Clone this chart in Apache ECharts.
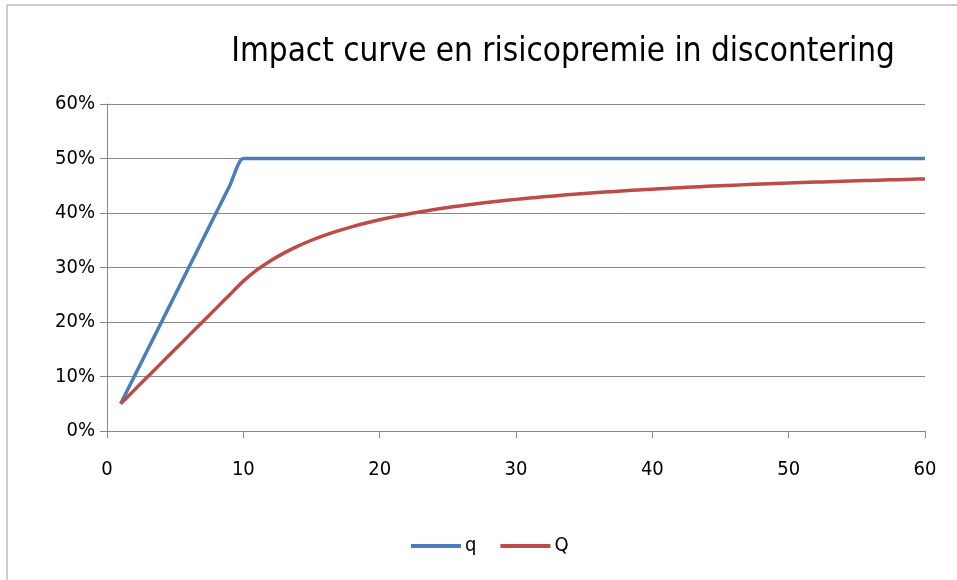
<!DOCTYPE html>
<html>
<head>
<meta charset="utf-8">
<script src="https://cdn.jsdelivr.net/npm/echarts@6/dist/echarts.min.js"></script>
<style>
html,body{margin:0;padding:0;background:#fff;}
#chart{width:957px;height:580px;}
</style>
</head>
<body>
<div id="chart"></div>
<script>
const titleText = 'Impact curve en risicopremie in discontering';
const xValues = [1,2,3,4,5,6,7,8,9,10,11,12,13,14,15,16,17,18,19,20,21,22,23,24,25,26,27,28,29,30,31,32,33,34,35,36,37,38,39,40,41,42,43,44,45,46,47,48,49,50,51,52,53,54,55,56,57,58,59,60];
const qValues = [0.05,0.10,0.15,0.20,0.25,0.30,0.35,0.40,0.45,0.50,0.50,0.50,0.50,0.50,0.50,0.50,0.50,0.50,0.50,0.50,0.50,0.50,0.50,0.50,0.50,0.50,0.50,0.50,0.50,0.50,0.50,0.50,0.50,0.50,0.50,0.50,0.50,0.50,0.50,0.50,0.50,0.50,0.50,0.50,0.50,0.50,0.50,0.50,0.50,0.50,0.50,0.50,0.50,0.50,0.50,0.50,0.50,0.50,0.50,0.50];
const QValues = [0.05,0.075,0.10,0.125,0.15,0.175,0.20,0.225,0.25,0.275,0.2955,0.3125,0.3269,0.3393,0.35,0.3594,0.3676,0.375,0.3816,0.3875,0.3929,0.3977,0.4022,0.4063,0.41,0.4135,0.4167,0.4196,0.4224,0.425,0.4274,0.4297,0.4318,0.4338,0.4357,0.4375,0.4392,0.4408,0.4423,0.4438,0.4451,0.4464,0.4477,0.4489,0.45,0.4511,0.4521,0.4531,0.4541,0.455,0.4559,0.4567,0.4575,0.4583,0.4591,0.4598,0.4605,0.4612,0.4619,0.4625];
const seriesNames = ['q','Q'];
const xTicks = [0,10,20,30,40,50,60];

const FONT = '"DejaVu Sans Condensed","DejaVu Sans",sans-serif';
const chart = echarts.init(document.getElementById('chart'), null, {renderer:'canvas'});
chart.setOption({
  backgroundColor:'#fff',
  animation:false,
  graphic:[{type:'rect',shape:{x:7,y:5,width:960,height:590},style:{fill:'none',stroke:'#9a9a9a',lineWidth:1},silent:true}],
  title:{text:titleText,left:558,top:31,textAlign:'center',
    textStyle:{fontFamily:FONT,fontSize:33,fontWeight:'normal',color:'#000'}},
  legend:{bottom:19,left:406,itemWidth:50,itemHeight:4,itemGap:24,icon:'rect',
    textStyle:{fontFamily:FONT,fontSize:20,color:'#000',padding:[0,0,0,-1]},data:seriesNames},
  grid:{left:107,right:32,top:104,bottom:149,containLabel:false},
  xAxis:{type:'value',min:0,max:60,interval:10,
    axisLine:{lineStyle:{color:'#868686',width:1}},
    axisTick:{show:true,length:7,lineStyle:{color:'#868686'}},
    axisLabel:{margin:29,fontFamily:FONT,fontSize:20,color:'#000',customValues:xTicks},
    splitLine:{show:false}},
  yAxis:{type:'value',min:0,max:0.6,interval:0.1,
    axisLine:{show:true,lineStyle:{color:'#868686',width:1}},
    axisTick:{show:true,length:7,lineStyle:{color:'#868686'}},
    axisLabel:{margin:12,fontFamily:FONT,fontSize:20,color:'#000',
      formatter:v=>Math.round(v*100)+'%'},
    splitLine:{show:true,lineStyle:{color:'#868686',width:1}}},
  series:[
    {name:seriesNames[0],type:'line',data:xValues.map((x,i)=>[x,qValues[i]]),
     showSymbol:false,symbol:'none',smooth:0.25,
     lineStyle:{color:'#4a7ebb',width:3.5},itemStyle:{color:'#4a7ebb'}},
    {name:seriesNames[1],type:'line',data:xValues.map((x,i)=>[x,QValues[i]]),
     showSymbol:false,symbol:'none',smooth:0.25,
     lineStyle:{color:'#be4b48',width:3.5},itemStyle:{color:'#be4b48'}}
  ]
});
</script>
</body>
</html>
